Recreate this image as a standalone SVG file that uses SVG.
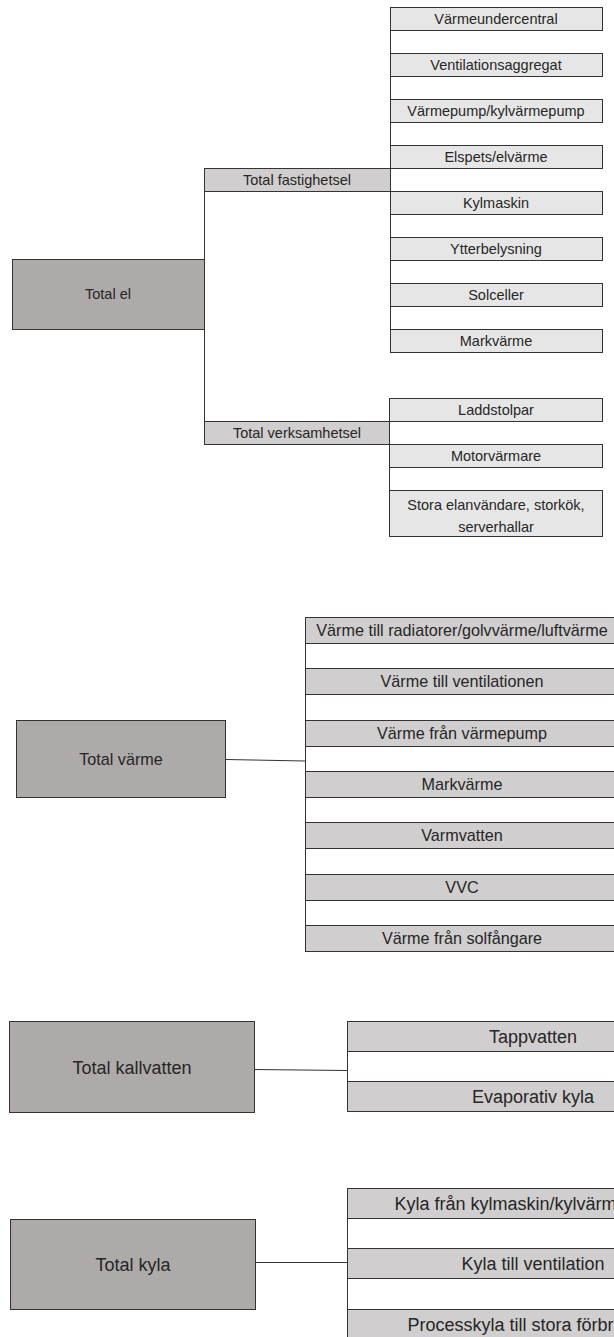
<svg xmlns="http://www.w3.org/2000/svg" width="614" height="1337" viewBox="0 0 614 1337">
<style>
.main{fill:#aeaaaa;stroke:#333;stroke-width:1}
.mid{fill:#d0cece;stroke:#333;stroke-width:1}
.leaf{fill:#e7e6e6;stroke:#333;stroke-width:1}
.conn{stroke:#333;stroke-width:1;fill:none}
text{font-family:"Liberation Sans",Arial,sans-serif;fill:#262626;text-anchor:middle}
.s1{font-size:14.5px}
.s2{font-size:16.2px}
.s3{font-size:18px}
</style>
<rect width="614" height="1337" fill="#fff"/>
<g id="connectors">
<line class="conn" x1="204.5" y1="192" x2="204.5" y2="422"/>
<line class="conn" x1="390.5" y1="7" x2="390.5" y2="353"/>
<line class="conn" x1="389.5" y1="398" x2="389.5" y2="536"/>
<line class="conn" x1="305.5" y1="617" x2="305.5" y2="951"/>
<line class="conn" x1="226" y1="759.5" x2="305" y2="761"/>
<line class="conn" x1="347.5" y1="1022" x2="347.5" y2="1112"/>
<line class="conn" x1="254" y1="1069.5" x2="347" y2="1070.5"/>
<line class="conn" x1="347.5" y1="1188" x2="347.5" y2="1337"/>
<line class="conn" x1="255" y1="1262.5" x2="347" y2="1262.5"/>
</g>
<g id="total-el"><rect class="main" x="12.5" y="259.5" width="192" height="70"/><text class="s1" x="108" y="299">Total el</text></g>
<g id="total-fastighetsel"><rect class="mid" x="204.5" y="168.5" width="186" height="23"/><text class="s1" x="297" y="185">Total fastighetsel</text></g>
<g id="total-verksamhetsel"><rect class="mid" x="204.5" y="421.5" width="185" height="23"/><text class="s1" x="297" y="438">Total verksamhetsel</text></g>
<g id="varmeundercentral"><rect class="leaf" x="390.5" y="7.5" width="212" height="23"/><text class="s1" x="496" y="24">Värmeundercentral</text></g>
<g id="ventilationsaggregat"><rect class="leaf" x="390.5" y="53.5" width="212" height="23"/><text class="s1" x="496" y="70">Ventilationsaggregat</text></g>
<g id="varmepump"><rect class="leaf" x="390.5" y="99.5" width="212" height="23"/><text class="s1" x="496" y="116">Värmepump/kylvärmepump</text></g>
<g id="elspets"><rect class="leaf" x="390.5" y="145.5" width="212" height="23"/><text class="s1" x="496" y="162">Elspets/elvärme</text></g>
<g id="kylmaskin"><rect class="leaf" x="390.5" y="191.5" width="212" height="23"/><text class="s1" x="496" y="208">Kylmaskin</text></g>
<g id="ytterbelysning"><rect class="leaf" x="390.5" y="237.5" width="212" height="23"/><text class="s1" x="496" y="254">Ytterbelysning</text></g>
<g id="solceller"><rect class="leaf" x="390.5" y="283.5" width="212" height="23"/><text class="s1" x="496" y="300">Solceller</text></g>
<g id="markvarme-el"><rect class="leaf" x="390.5" y="329.5" width="212" height="23"/><text class="s1" x="496" y="346">Markvärme</text></g>
<g id="laddstolpar"><rect class="leaf" x="389.5" y="398.5" width="213" height="23"/><text class="s1" x="496" y="415">Laddstolpar</text></g>
<g id="motorvarmare"><rect class="leaf" x="389.5" y="444.5" width="213" height="23"/><text class="s1" x="496" y="461">Motorvärmare</text></g>
<g id="stora"><rect class="leaf" x="389.5" y="490.5" width="213" height="46"/><text class="s1" x="496" y="510">Stora elanvändare, storkök,</text><text class="s1" x="496" y="532">serverhallar</text></g>
<g id="total-varme"><rect class="main" x="16.5" y="720.5" width="209" height="77"/><text class="s2" x="121" y="765">Total värme</text></g>
<g id="varme-radiatorer"><rect class="mid" x="305.5" y="617.5" width="320" height="26"/><text class="s2" x="462" y="636">Värme till radiatorer/golvvärme/luftvärme</text></g>
<g id="varme-ventilation"><rect class="mid" x="305.5" y="668.5" width="320" height="26"/><text class="s2" x="462" y="687">Värme till ventilationen</text></g>
<g id="varme-varmepump"><rect class="mid" x="305.5" y="720.5" width="320" height="26"/><text class="s2" x="462" y="739">Värme från värmepump</text></g>
<g id="varme-markvarme"><rect class="mid" x="305.5" y="771.5" width="320" height="26"/><text class="s2" x="462" y="790">Markvärme</text></g>
<g id="varmvatten"><rect class="mid" x="305.5" y="822.5" width="320" height="26"/><text class="s2" x="462" y="841">Varmvatten</text></g>
<g id="vvc"><rect class="mid" x="305.5" y="874.5" width="320" height="26"/><text class="s2" x="462" y="893">VVC</text></g>
<g id="solfangare"><rect class="mid" x="305.5" y="925.5" width="320" height="26"/><text class="s2" x="462" y="944">Värme från solfångare</text></g>
<g id="total-kallvatten"><rect class="main" x="9.5" y="1021.5" width="245" height="91"/><text class="s3" x="132" y="1074">Total kallvatten</text></g>
<g id="tappvatten"><rect class="mid" x="347.5" y="1021.5" width="380" height="30"/><text class="s3" x="533" y="1043">Tappvatten</text></g>
<g id="evaporativ"><rect class="mid" x="347.5" y="1081.5" width="380" height="30"/><text class="s3" x="533" y="1103">Evaporativ kyla</text></g>
<g id="total-kyla"><rect class="main" x="10.5" y="1219.5" width="245" height="90"/><text class="s3" x="133" y="1271">Total kyla</text></g>
<g id="kyla-kylmaskin"><rect class="mid" x="347.5" y="1188.5" width="380" height="30"/><text class="s3" x="533" y="1210">Kyla från kylmaskin/kylvärmepump</text></g>
<g id="kyla-ventilation"><rect class="mid" x="347.5" y="1248.5" width="380" height="30"/><text class="s3" x="533" y="1270">Kyla till ventilation</text></g>
<g id="processkyla"><rect class="mid" x="347.5" y="1309.5" width="380" height="30"/><text class="s3" x="533" y="1331">Processkyla till stora förbrukare</text></g>
</svg>
